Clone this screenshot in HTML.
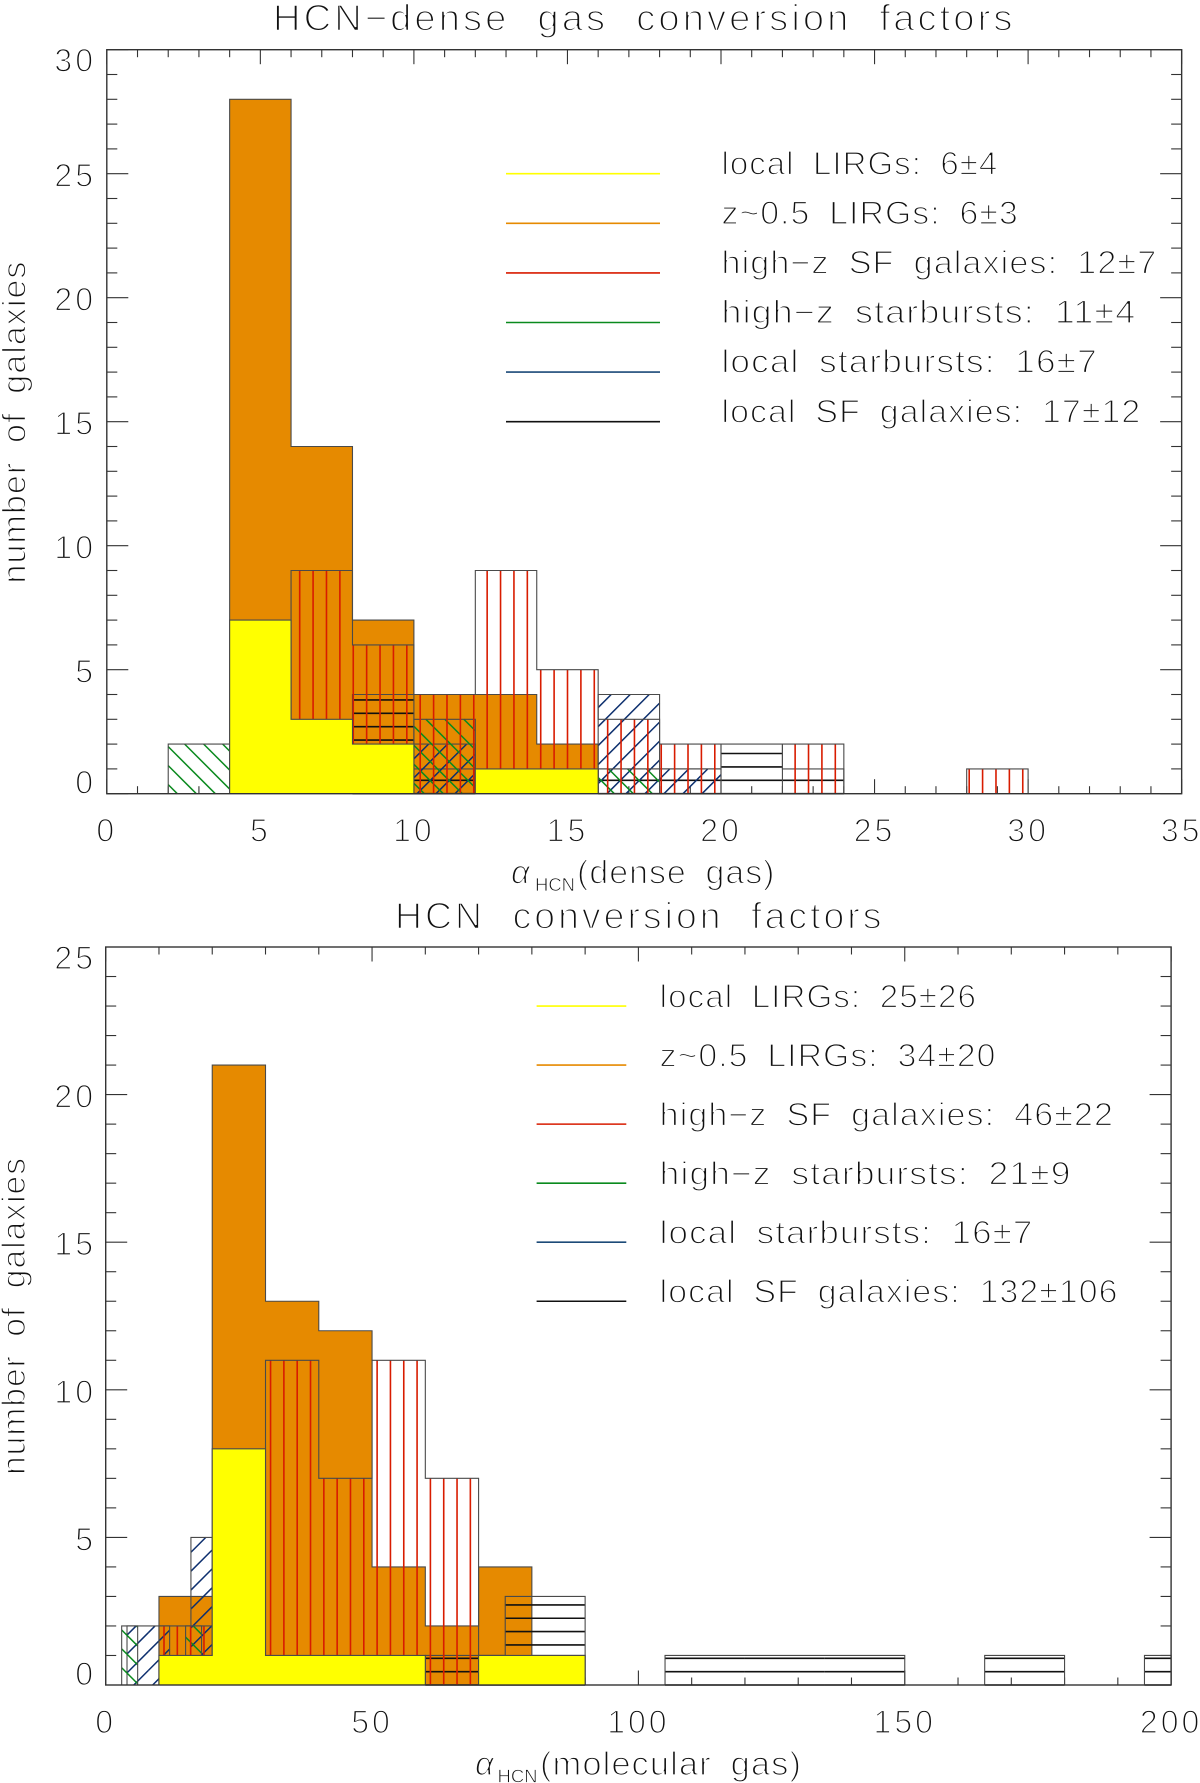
<!DOCTYPE html>
<html lang="en">
<head>
<meta charset="utf-8">
<title>HCN conversion factors</title>
<style>
html,body{margin:0;padding:0;background:#fff;}
svg{display:block;}
text{font-family:"Liberation Sans",sans-serif;fill:#111;stroke:#fff;stroke-width:1.35px;}
.t{font-size:37px;letter-spacing:3px;word-spacing:14px;stroke-width:1.6px;}
.l{font-size:32px;letter-spacing:1px;word-spacing:8px;}
.n{font-size:32px;letter-spacing:3px;}
.a{font-size:33px;letter-spacing:1px;word-spacing:8px;}
.g{font-size:33px;}
.s{font-size:18px;stroke-width:.65px;}
</style>
</head>
<body>
<svg id="fig" xmlns="http://www.w3.org/2000/svg" width="1200" height="1783" viewBox="0 0 1200 1783">
<rect x="0" y="0" width="1200" height="1783" fill="#fff"/>
<g id="topPlot"></g>
<g id="bottomPlot"></g>

<text class="t" x="273" y="30.7" textLength="742.5" lengthAdjust="spacingAndGlyphs">HCN−dense gas conversion factors</text>
<text class="a" transform="translate(25.5,583.5) rotate(-90)" textLength="323" lengthAdjust="spacingAndGlyphs">number of galaxies</text>
<text class="g" x="511" y="883.7" font-style="italic">α</text>
<text class="s" x="535" y="891" textLength="40" lengthAdjust="spacingAndGlyphs">HCN</text>
<text class="a" x="577" y="883.7" textLength="198.5" lengthAdjust="spacingAndGlyphs">(dense gas)</text>

<text class="l" x="721.5" y="174.3" textLength="276.8" lengthAdjust="spacingAndGlyphs">local LIRGs: 6±4</text>
<text class="l" x="721.5" y="223.8" textLength="297.3" lengthAdjust="spacingAndGlyphs">z~0.5 LIRGs: 6±3</text>
<text class="l" x="721.5" y="273.5" textLength="435.8" lengthAdjust="spacingAndGlyphs">high−z SF galaxies: 12±7</text>
<text class="l" x="721.5" y="323.1" textLength="414.8" lengthAdjust="spacingAndGlyphs">high−z starbursts: 11±4</text>
<text class="l" x="721.5" y="372.5" textLength="376.3" lengthAdjust="spacingAndGlyphs">local starbursts: 16±7</text>
<text class="l" x="721.5" y="422.3" textLength="419.8" lengthAdjust="spacingAndGlyphs">local SF galaxies: 17±12</text>

<text class="t" x="395" y="928.3" textLength="489.5" lengthAdjust="spacingAndGlyphs">HCN conversion factors</text>
<text class="a" transform="translate(25,1475) rotate(-90)" textLength="318" lengthAdjust="spacingAndGlyphs">number of galaxies</text>
<text class="g" x="475" y="1775" font-style="italic">α</text>
<text class="s" x="497.5" y="1782.7" textLength="40" lengthAdjust="spacingAndGlyphs">HCN</text>
<text class="a" x="540" y="1775" textLength="262" lengthAdjust="spacingAndGlyphs">(molecular gas)</text>

<text class="l" x="659.7" y="1007.3" textLength="317.3" lengthAdjust="spacingAndGlyphs">local LIRGs: 25±26</text>
<text class="l" x="659.7" y="1066.3" textLength="336.8" lengthAdjust="spacingAndGlyphs">z~0.5 LIRGs: 34±20</text>
<text class="l" x="659.7" y="1125.3" textLength="454.3" lengthAdjust="spacingAndGlyphs">high−z SF galaxies: 46±22</text>
<text class="l" x="659.7" y="1184.3" textLength="411.8" lengthAdjust="spacingAndGlyphs">high−z starbursts: 21±9</text>
<text class="l" x="659.7" y="1243.3" textLength="373.8" lengthAdjust="spacingAndGlyphs">local starbursts: 16±7</text>
<text class="l" x="659.7" y="1302.3" textLength="458.8" lengthAdjust="spacingAndGlyphs">local SF galaxies: 132±106</text>
</svg>
<script>
// ---- top chart data ----
const topBinWidth = 2;
const topXTicks = [0, 5, 10, 15, 20, 25, 30, 35];
const topYTicks = [0, 5, 10, 15, 20, 25, 30];
const topLegendRows = [25, 23, 21, 19, 17, 15];
const topOrangeStarts = [4, 6, 8, 10, 12, 14];
const topOrangeCounts = [28, 14, 7, 4, 4, 2];
const topBlackStarts = [8, 10, 16, 18, 20, 22];
const topBlackCounts = [4, 1, 1, 1, 2, 1];
const topBlueStarts = [10, 16, 18];
const topBlueCounts = [2, 4, 1];
const topGreenStarts = [2, 10, 16];
const topGreenCounts = [2, 3, 1];
const topRedStarts = [6, 8, 10, 12, 14, 16, 18, 22, 28];
const topRedCounts = [9, 6, 4, 9, 5, 3, 2, 2, 1];
const topYellowStarts = [4, 6, 8, 12, 14];
const topYellowCounts = [7, 3, 2, 1, 1];

// ---- bottom chart data ----
const bottomXTicks = [0, 50, 100, 150, 200];
const bottomYTicks = [0, 5, 10, 15, 20, 25];
const bottomLegendRows = [23, 21, 19, 17, 15, 13];
const bottomBinWidth = 10;
const bottomBlackBinWidth = 15;
const bottomBlueBinWidth = 4;
const bottomGreenBinWidth = 3;
const bottomOrangeStarts = [10, 20, 30, 40, 50, 60, 70, 80];
const bottomOrangeCounts = [3, 21, 13, 12, 4, 2, 4, 1];
const bottomBlackStarts = [60, 75, 105, 120, 135, 165, 195];
const bottomBlackCounts = [1, 3, 1, 1, 1, 1, 1];
const bottomBlueStarts = [4, 8, 16];
const bottomBlueCounts = [2, 2, 5];
const bottomGreenStarts = [3, 15];
const bottomGreenCounts = [2, 2];
const bottomRedStarts = [10, 30, 40, 50, 60];
const bottomRedCounts = [2, 11, 7, 11, 7];
const bottomYellowStarts = [10, 20, 30, 40, 50, 70, 80];
const bottomYellowCounts = [1, 8, 1, 1, 1, 1, 1];

// ---- colours ----
const YELLOW = '#ffff00', ORANGE = '#e68a00', RED = '#d81c00', GREEN = '#0a8a1e', BLUE = '#0d2f6e', BLACK = '#111111';
const EDGE = '#4a4a4a';
const NS = 'http://www.w3.org/2000/svg';

function makeLine(parent, x1, y1, x2, y2, color, width) {
  const el = document.createElementNS(NS, 'line');
  el.setAttribute('x1', x1.toFixed(2));
  el.setAttribute('y1', y1.toFixed(2));
  el.setAttribute('x2', x2.toFixed(2));
  el.setAttribute('y2', y2.toFixed(2));
  el.setAttribute('stroke', color);
  el.setAttribute('stroke-width', width);
  parent.appendChild(el);
  return el;
}

function hatchLine(parent, x1, y1, x2, y2, color, width) {
  const el = makeLine(parent, x1, y1, x2, y2, color, width);
  
  
}

function drawVertical(g, r, color, phase, step) {
  for (let k = Math.ceil((r.x1 - phase) / step); phase + k * step <= r.x2; k++) {
    const x = phase + k * step;
    hatchLine(g, x, r.y1, x, r.y2, color, 1.6);
  }
}

function drawHorizontal(g, r, color, base, step) {
  for (let k = Math.ceil((base - r.y2) / step); base - k * step >= r.y1; k++) {
    const y = base - k * step;
    hatchLine(g, r.x1, y, r.x2, y, color, 1.6);
  }
}

function drawBackslash(g, r, color, phase, step) {
  for (let k = Math.ceil((r.x1 - r.y2 - phase) / step); phase + k * step <= r.x2 - r.y1; k++) {
    const c = phase + k * step;
    const a = Math.max(r.x1, r.y1 + c), b = Math.min(r.x2, r.y2 + c);
    if (b > a) hatchLine(g, a, a - c, b, b - c, color, 1.5);
  }
}

function drawSlash(g, r, color, phase, step) {
  for (let k = Math.ceil((r.x1 + r.y1 - phase) / step); phase + k * step <= r.x2 + r.y2; k++) {
    const c = phase + k * step;
    const a = Math.max(r.x1, c - r.y2), b = Math.min(r.x2, c - r.y1);
    if (b > a) hatchLine(g, a, c - a, b, c - b, color, 1.5);
  }
}

function drawSeries(parent, axes, name, starts, width, counts, fill, hatch) {
  const g = document.createElementNS(NS, 'g');
  
  
  parent.appendChild(g);
  let d = '';
  let prevEnd = null;
  const base = axes.y(0);
  starts.forEach(function (s, i) {
    if (!counts[i]) return;
    const r = {
      x1: axes.x(s),
      x2: Math.min(axes.x(s + width), axes.x(axes.xMax)),
      y1: axes.y(counts[i]),
      y2: base
    };
    if (hatch) hatch(g, r);
    const el = document.createElementNS(NS, 'rect');
    el.setAttribute('x', r.x1.toFixed(2));
    el.setAttribute('y', r.y1.toFixed(2));
    el.setAttribute('width', (r.x2 - r.x1).toFixed(2));
    el.setAttribute('height', (r.y2 - r.y1).toFixed(2));
    el.setAttribute('fill', fill);
    el.setAttribute('shape-rendering', 'crispEdges');
    
    
    g.appendChild(el);
    // stepped outline: only drop to the baseline where a run of bins ends
    if (prevEnd === null || prevEnd !== s) {
      if (prevEnd !== null) d += 'L' + axes.x(prevEnd).toFixed(2) + ' ' + base.toFixed(2);
      d += 'M' + r.x1.toFixed(2) + ' ' + base.toFixed(2);
    }
    d += 'L' + r.x1.toFixed(2) + ' ' + r.y1.toFixed(2) + 'L' + r.x2.toFixed(2) + ' ' + r.y1.toFixed(2);
    prevEnd = s + width;
  });
  if (prevEnd !== null) {
    d += 'L' + Math.min(axes.x(prevEnd), axes.x(axes.xMax)).toFixed(2) + ' ' + base.toFixed(2);
  }
  const outline = document.createElementNS(NS, 'path');
  outline.setAttribute('d', d);
  outline.setAttribute('fill', 'none');
  outline.setAttribute('stroke', EDGE);
  outline.setAttribute('stroke-width', '1.1');
  
  
  g.appendChild(outline);
}

function drawAxes(parent, axes, xTicks, yTicks, xMinorStep, baselineX) {
  const left = axes.x(0), right = axes.x(axes.xMax), top = axes.y(axes.yMax), bottom = axes.y(0);
  for (let v = 0; v <= axes.xMax; v += xMinorStep) {
    const major = xTicks.indexOf(v) >= 0;
    const len = major ? 14.5 : 7.5;
    const a = makeLine(parent, axes.x(v), bottom, axes.x(v), bottom - len, '#333', 1.1);
    
    
    const b = makeLine(parent, axes.x(v), top, axes.x(v), top + len, '#333', 1.1);
    
    
  }
  for (let v = 0; v <= axes.yMax; v += 1) {
    const major = yTicks.indexOf(v) >= 0;
    const len = major ? 21.5 : 10.5;
    const a = makeLine(parent, left, axes.y(v), left + len, axes.y(v), '#333', 1.1);
    
    
    const b = makeLine(parent, right, axes.y(v), right - len, axes.y(v), '#333', 1.1);
    
    
  }
  xTicks.forEach(function (v) {
    const t = document.createElementNS(NS, 'text');
    t.setAttribute('class', 'n');
    t.setAttribute('x', axes.x(v).toFixed(2));
    t.setAttribute('y', baselineX);
    t.setAttribute('text-anchor', 'middle');
    t.textContent = v;
    
    
    parent.appendChild(t);
  });
  yTicks.forEach(function (v, i) {
    const offset = i === 0 ? 0 : (i === yTicks.length - 1 ? 22 : 13);
    const t = document.createElementNS(NS, 'text');
    t.setAttribute('class', 'n');
    t.setAttribute('x', 96);
    t.setAttribute('y', (axes.y(v) + offset).toFixed(2));
    t.setAttribute('text-anchor', 'end');
    t.textContent = v;
    
    
    parent.appendChild(t);
  });
}

function drawFrame(parent, axes) {
  const el = document.createElementNS(NS, 'rect');
  el.setAttribute('x', axes.x(0).toFixed(2));
  el.setAttribute('y', axes.y(axes.yMax).toFixed(2));
  el.setAttribute('width', (axes.x(axes.xMax) - axes.x(0)).toFixed(2));
  el.setAttribute('height', (axes.y(0) - axes.y(axes.yMax)).toFixed(2));
  el.setAttribute('fill', 'none');
  el.setAttribute('stroke', '#333');
  el.setAttribute('stroke-width', '1.4');
  
  
  parent.appendChild(el);
}

function drawLegendLines(parent, axes, rows, x1, x2) {
  const colors = [YELLOW, ORANGE, RED, GREEN, '#1c4a78', BLACK];
  rows.forEach(function (row, i) {
    const el = makeLine(parent, x1, axes.y(row), x2, axes.y(row), colors[i], 1.6);
    
    
  });
}

// ---- top chart ----
const topAxes = {
  xMax: 35, yMax: 30,
  x: function (v) { return 106.8 + v * 30.71; },
  y: function (v) { return 793.7 - v * 24.8; }
};
const topG = document.getElementById('topPlot');
drawAxes(topG, topAxes, topXTicks, topYTicks, 1, 841.7);
drawLegendLines(topG, topAxes, topLegendRows, 506, 660);
drawSeries(topG, topAxes, 'z05-lirgs', topOrangeStarts, topBinWidth, topOrangeCounts, ORANGE, null);
drawSeries(topG, topAxes, 'local-sf-galaxies', topBlackStarts, topBinWidth, topBlackCounts, 'none',
  function (g, r) { drawHorizontal(g, r, BLACK, 793.7, 13.4); });
drawSeries(topG, topAxes, 'local-starbursts', topBlueStarts, topBinWidth, topBlueCounts, 'none',
  function (g, r) { drawSlash(g, r, BLUE, 1172.7, 19); });
drawSeries(topG, topAxes, 'highz-starbursts', topGreenStarts, topBinWidth, topGreenCounts, 'none',
  function (g, r) { drawBackslash(g, r, GREEN, -616.4, 19); });
drawSeries(topG, topAxes, 'highz-sf-galaxies', topRedStarts, topBinWidth, topRedCounts, 'none',
  function (g, r) { drawVertical(g, r, RED, 299.7, 13.39); });
drawSeries(topG, topAxes, 'local-lirgs', topYellowStarts, topBinWidth, topYellowCounts, YELLOW, null);
drawFrame(topG, topAxes);

// ---- bottom chart ----
const bottomAxes = {
  xMax: 200, yMax: 25,
  x: function (v) { return 105.7 + v * 5.327; },
  y: function (v) { return 1685 - v * 29.52; }
};
const bottomG = document.getElementById('bottomPlot');
drawAxes(bottomG, bottomAxes, bottomXTicks, bottomYTicks, 10, 1733);
drawLegendLines(bottomG, bottomAxes, bottomLegendRows, 536.6, 626.3);
drawSeries(bottomG, bottomAxes, 'z05-lirgs', bottomOrangeStarts, bottomBinWidth, bottomOrangeCounts, ORANGE, null);
drawSeries(bottomG, bottomAxes, 'local-sf-galaxies', bottomBlackStarts, bottomBlackBinWidth, bottomBlackCounts, 'none',
  function (g, r) { drawHorizontal(g, r, BLACK, 1685, 13.35); });
drawSeries(bottomG, bottomAxes, 'local-starbursts', bottomBlueStarts, bottomBlueBinWidth, bottomBlueCounts, 'none',
  function (g, r) { drawSlash(g, r, BLUE, 1781, 18.9); });
drawSeries(bottomG, bottomAxes, 'highz-starbursts', bottomGreenStarts, bottomGreenBinWidth, bottomGreenCounts, 'none',
  function (g, r) { drawBackslash(g, r, GREEN, -1508.3, 18.9); });
drawSeries(bottomG, bottomAxes, 'highz-sf-galaxies', bottomRedStarts, bottomBinWidth, bottomRedCounts, 'none',
  function (g, r) { drawVertical(g, r, RED, 164, 13.32); });
drawSeries(bottomG, bottomAxes, 'local-lirgs', bottomYellowStarts, bottomBinWidth, bottomYellowCounts, YELLOW, null);
drawFrame(bottomG, bottomAxes);
</script>
</body>
</html>
